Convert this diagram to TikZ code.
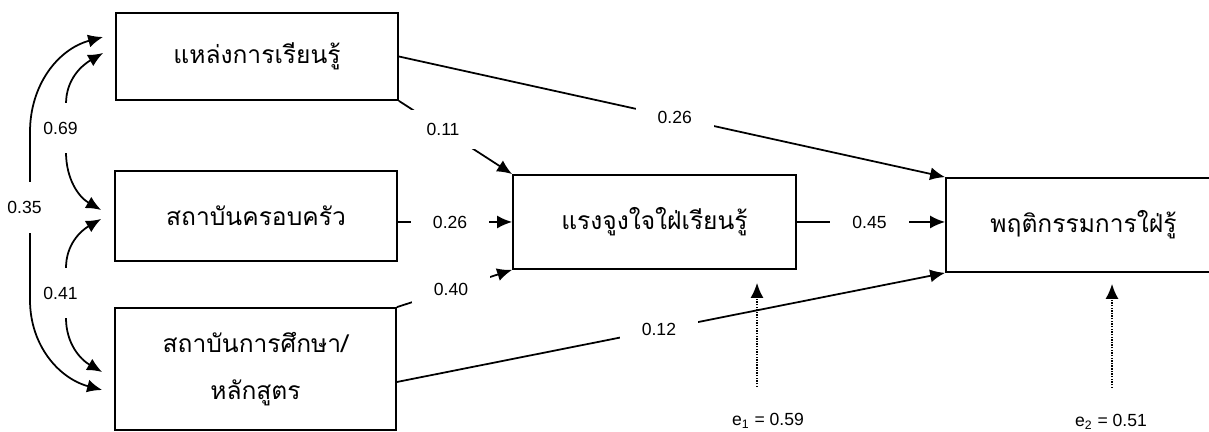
\documentclass[tikz,border=0pt]{standalone}
\usepackage{fontspec}
\setmainfont{Liberation Sans}
\newfontfamily\thaifont[Script=Thai]{Loma}
\usetikzlibrary{arrows.meta}
\usetikzlibrary{calc}

\tikzset{
    varbox/.style={draw, line width=1pt, minimum width=5.64cm, inner sep=0pt, align=center, font=\thaifont\fontsize{14}{27}\selectfont},
    effect/.style={line width=1pt, -{Latex[length=3mm,width=2.6mm]}},
    corr/.style={line width=1pt, {Latex[length=3mm,width=2.6mm]}-{Latex[length=3mm,width=2.6mm]}},
    coef/.style={fill=white, inner xsep=0.44cm, inner ysep=0.14cm, font=\fontsize{10}{12}\selectfont},
    corrlabel/.style={fill=white, inner xsep=1pt, inner ysep=0.38cm, xshift=-0.11cm, font=\fontsize{10}{12}\selectfont},
    resid/.style={line width=1pt, dash pattern=on 0.8pt off 0.7pt, -{Latex[length=3mm,width=2.6mm]}}
}

\begin{document}
\begin{tikzpicture}
    \useasboundingbox (0,0) rectangle (24.18,8.64);

    %variables
    \node[varbox, minimum height=1.74cm] (source) at (5.14,7.51) {แหล่งการเรียนรู้};
    \node[varbox, minimum height=1.80cm] (family) at (5.12,4.32) {สถาบันครอบครัว};
    \node[varbox, minimum width=5.62cm, minimum height=2.44cm] (school) at (5.11,1.26) {สถาบันการศึกษา/\\หลักสูตร};
    \node[varbox, minimum width=5.66cm, minimum height=1.88cm] (motive) at (13.09,4.20) {แรงจูงใจใฝ่เรียนรู้};
    \node[varbox, minimum width=5.5cm, minimum height=1.88cm] (behave) at (21.67,4.14) {พฤติกรรมการใฝ่รู้};

    %paths
    \draw[effect] (source.east) -- node[coef, pos=0.505] {0.26} (behave.north west);
    \draw[effect] (source.south east) -- node[coef, pos=0.39, inner ysep=0.27cm] {0.11} (motive.north west);
    \draw[effect] (family.east |- motive.west) -- node[coef, pos=0.457] {0.26} (motive.west);
    \draw[effect] (school.north east) -- node[coef, pos=0.47] {0.40} (motive.south west);
    \draw[effect] ([yshift=-0.26cm]school.east) -- node[coef, pos=0.478] {0.12} (behave.south west);
    \draw[effect] (motive.east) -- node[coef, pos=0.49] {0.45} (motive.east -| behave.west);

    %correlations
    \draw[corr] ([xshift=-0.24cm,yshift=0.07cm]source.west) to[out=210,in=90] (1.32,6.56)
        -- node[corrlabel] {0.69} (1.32,5.60) to[out=270,in=150] ([xshift=-0.26cm,yshift=0.12cm]family.west);
    \draw[corr] ([xshift=-0.26cm,yshift=-0.06cm]family.west) to[out=210,in=90] (1.32,3.28)
        -- node[corrlabel] {0.41} (1.32,2.28) to[out=270,in=150] ([xshift=-0.24cm,yshift=-0.06cm]school.west);
    \draw[corr] ([xshift=-0.24cm,yshift=0.39cm]source.west) to[out=195,in=90] (0.60,6.00)
        -- node[corrlabel, pos=0.45] {0.35} (0.60,2.64) to[out=270,in=165] ([xshift=-0.24cm,yshift=-0.42cm]school.west);

    %errors
    \coordinate (e1start) at (15.14,0.90);
    \coordinate (e2start) at (22.24,0.88);
    \draw[resid] (e1start) -- ($(motive.south -| e1start)+(0,-0.26)$);
    \draw[resid] (e2start) -- ($(behave.south -| e2start)+(0,-0.22)$);
    \node (e1) at (15.36,0.22) {e\textsubscript{1} = 0.59};
    \node (e2) at (22.22,0.20) {e\textsubscript{2} = 0.51};
\end{tikzpicture}
\end{document}
